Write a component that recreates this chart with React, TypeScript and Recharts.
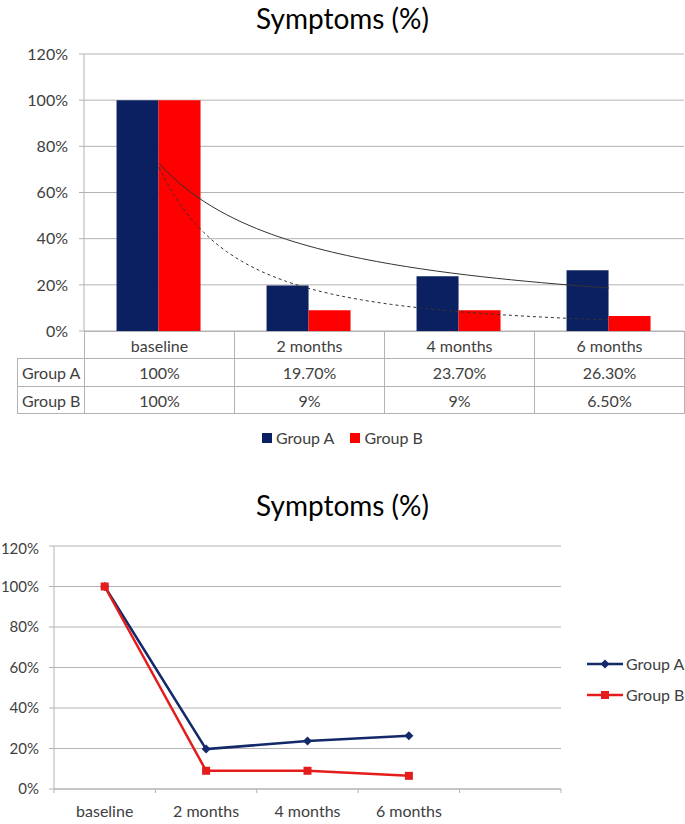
import React from "react";
import {
  ComposedChart,
  LineChart,
  Bar,
  Line,
  XAxis,
  YAxis,
  CartesianGrid,
} from "recharts";

const FONT = "Lato, 'Open Sans', sans-serif";
const TEXT = "#404040";
const GRID = "#b3b3b3";
const NAVY = "#0b2060";
const RED = "#ff0000";
const LINE_NAVY = "#14296a";
const LINE_RED = "#e51c1c";

const categories = ["baseline", "2 months", "4 months", "6 months"];
const groupA = [100, 19.7, 23.7, 26.3];
const groupB = [100, 9, 9, 6.5];
const tableA = ["100%", "19.70%", "23.70%", "26.30%"];
const tableB = ["100%", "9%", "9%", "6.50%"];
const yTicks = [0, 20, 40, 60, 80, 100, 120];
// the line chart has one empty slot at the end
const lineSlots = [...categories, ""];

const barData = categories.map((cat, i) => ({ cat, a: groupA[i], b: groupB[i] }));
const lineData = lineSlots.map((cat, i) => ({
  cat,
  a: i < groupA.length ? groupA[i] : null,
  b: i < groupB.length ? groupB[i] : null,
}));

// power trendline (y = c * x^k), least squares on logs, as the spreadsheet does
function powerFit(ys: number[]) {
  const lx = ys.map((_, i) => Math.log(i + 1));
  const ly = ys.map((y) => Math.log(y));
  const n = ys.length;
  const mx = lx.reduce((s, v) => s + v, 0) / n;
  const my = ly.reduce((s, v) => s + v, 0) / n;
  let sxy = 0;
  let sxx = 0;
  for (let i = 0; i < n; i++) {
    sxy += (lx[i] - mx) * (ly[i] - my);
    sxx += (lx[i] - mx) ** 2;
  }
  const k = sxy / sxx;
  const c = Math.exp(my - k * mx);
  return (x: number) => c * Math.pow(x, k);
}
const fitA = powerFit(groupA);
const fitB = powerFit(groupB);
const trendData: { t: number; ta: number; tb: number }[] = [];
for (let s = 0; s <= 60; s++) {
  const t = 1 + s * 0.05;
  trendData.push({ t, ta: fitA(t), tb: fitB(t) });
}

const pct = (v: number) => `${v}%`;
const tickStyle = { fontSize: 16, fill: TEXT, fontFamily: FONT };

const LINE_LEFT = 54;
const LINE_RIGHT_MARGIN = 124;
const slotWidth = (685 - LINE_LEFT - LINE_RIGHT_MARGIN) / lineSlots.length;

function SlotTick(props: any) {
  const { x, y, payload, index } = props;
  const axisY = y - 14;
  return (
    <g>
      <line x1={x - slotWidth / 2} x2={x - slotWidth / 2} y1={axisY} y2={axisY + 4} stroke={GRID} />
      {index === lineSlots.length - 1 && (
        <line x1={x + slotWidth / 2} x2={x + slotWidth / 2} y1={axisY} y2={axisY + 4} stroke={GRID} />
      )}
      <text x={x} y={axisY + 28} textAnchor="middle" fontSize={16} fill={TEXT} fontFamily={FONT}>
        {payload.value}
      </text>
    </g>
  );
}

function Diamond(props: any) {
  const { cx, cy } = props;
  if (cx == null || cy == null) return null;
  const r = 4.5;
  return (
    <polygon
      points={`${cx},${cy - r} ${cx + r},${cy} ${cx},${cy + r} ${cx - r},${cy}`}
      fill={LINE_NAVY}
    />
  );
}

function Square(props: any) {
  const { cx, cy } = props;
  if (cx == null || cy == null) return null;
  return <rect x={cx - 4} y={cy - 4} width={8} height={8} fill={LINE_RED} />;
}

const cell: React.CSSProperties = {
  border: `1px solid ${GRID}`,
  textAlign: "center",
  padding: 0,
};
const rowHead: React.CSSProperties = { ...cell, textAlign: "left", paddingLeft: 4 };

const titleStyle: React.CSSProperties = {
  position: "absolute",
  left: 0,
  width: 685,
  textAlign: "center",
  fontSize: 28,
  color: "#000",
  fontFamily: FONT,
  lineHeight: "34px",
};

export default function App() {
  return (
    <div
      style={{
        position: "absolute",
        left: 0,
        top: 0,
        width: 685,
        height: 824,
        background: "#fff",
        fontFamily: FONT,
        overflow: "hidden",
      }}
    >
      <div style={{ ...titleStyle, top: 1 }}>Symptoms (%)</div>

      <div style={{ position: "absolute", left: 0, top: 0 }}>
        <ComposedChart
          width={685}
          height={340}
          data={barData}
          margin={{ top: 54, right: 1, left: 0, bottom: 9 }}
          barCategoryGap="21.7%"
          barGap={0}
        >
          <CartesianGrid vertical={false} stroke={GRID} xAxisId="cat" />
          <XAxis dataKey="cat" xAxisId="cat" hide />
          <XAxis
            dataKey="t"
            xAxisId="t"
            type="number"
            domain={[0.5, 4.5]}
            allowDataOverflow
            hide
          />
          <YAxis
            domain={[0, 120]}
            ticks={yTicks}
            width={84}
            tickFormatter={pct}
            tick={tickStyle}
            tickSize={5}
            tickMargin={11}
            tickLine={{ stroke: GRID }}
            axisLine={{ stroke: GRID }}
          />
          <Bar xAxisId="cat" dataKey="a" fill={NAVY} isAnimationActive={false} />
          <Bar xAxisId="cat" dataKey="b" fill={RED} isAnimationActive={false} />
          <Line
            xAxisId="t"
            data={trendData}
            dataKey="ta"
            stroke="#333"
            strokeWidth={1}
            dot={false}
            activeDot={false}
            isAnimationActive={false}
          />
          <Line
            xAxisId="t"
            data={trendData}
            dataKey="tb"
            stroke="#333"
            strokeWidth={1}
            strokeDasharray="3 3"
            dot={false}
            activeDot={false}
            isAnimationActive={false}
          />
        </ComposedChart>
      </div>

      <table
        style={{
          position: "absolute",
          left: 17,
          top: 331,
          borderCollapse: "collapse",
          tableLayout: "fixed",
          width: 668,
          fontFamily: FONT,
          fontSize: 16,
          color: TEXT,
        }}
      >
        <colgroup>
          <col style={{ width: 67 }} />
          {categories.map((c) => (
            <col key={c} style={{ width: 150 }} />
          ))}
        </colgroup>
        <tbody>
          <tr style={{ height: 27 }}>
            <td style={{ padding: 0 }} />
            {categories.map((c) => (
              <td key={c} style={cell}>
                {c}
              </td>
            ))}
          </tr>
          <tr style={{ height: 28 }}>
            <td style={rowHead}>Group A</td>
            {tableA.map((v, i) => (
              <td key={i} style={cell}>
                {v}
              </td>
            ))}
          </tr>
          <tr style={{ height: 27 }}>
            <td style={rowHead}>Group B</td>
            {tableB.map((v, i) => (
              <td key={i} style={cell}>
                {v}
              </td>
            ))}
          </tr>
        </tbody>
      </table>

      <div
        style={{
          position: "absolute",
          left: 0,
          top: 428,
          width: 685,
          display: "flex",
          justifyContent: "center",
          alignItems: "center",
          gap: 16,
          fontSize: 16,
          color: TEXT,
          lineHeight: "20px",
        }}
      >
        <span style={{ display: "flex", alignItems: "center", gap: 4 }}>
          <span style={{ width: 10, height: 10, background: NAVY, display: "inline-block" }} />
          Group A
        </span>
        <span style={{ display: "flex", alignItems: "center", gap: 4 }}>
          <span style={{ width: 10, height: 10, background: RED, display: "inline-block" }} />
          Group B
        </span>
      </div>

      <div style={{ ...titleStyle, top: 488 }}>Symptoms (%)</div>

      <div style={{ position: "absolute", left: 0, top: 540 }}>
        <LineChart
          width={685}
          height={280}
          data={lineData}
          margin={{ top: 6, right: LINE_RIGHT_MARGIN, left: 0, bottom: 0 }}
        >
          <CartesianGrid vertical={false} stroke={GRID} />
          <XAxis
            dataKey="cat"
            scale="band"
            height={31}
            interval={0}
            tickLine={false}
            tickSize={4}
            tickMargin={10}
            axisLine={{ stroke: GRID }}
            tick={<SlotTick />}
          />
          <YAxis
            domain={[0, 120]}
            ticks={yTicks}
            width={LINE_LEFT}
            tickFormatter={pct}
            tick={{ ...tickStyle, fontSize: 15 }}
            tickSize={5}
            tickMargin={10}
            tickLine={{ stroke: GRID }}
            axisLine={{ stroke: GRID }}
          />
          <Line
            dataKey="a"
            stroke={LINE_NAVY}
            strokeWidth={2.5}
            dot={<Diamond />}
            activeDot={false}
            isAnimationActive={false}
          />
          <Line
            dataKey="b"
            stroke={LINE_RED}
            strokeWidth={2.5}
            dot={<Square />}
            activeDot={false}
            isAnimationActive={false}
          />
        </LineChart>
      </div>

      {[
        { name: "Group A", color: LINE_NAVY, marker: "diamond", top: 654 },
        { name: "Group B", color: LINE_RED, marker: "square", top: 685 },
      ].map((item) => (
        <div
          key={item.name}
          style={{
            position: "absolute",
            left: 587,
            top: item.top,
            display: "flex",
            alignItems: "center",
            fontSize: 16,
            color: TEXT,
            lineHeight: "20px",
            whiteSpace: "nowrap",
          }}
        >
          <svg width={37} height={12} style={{ marginRight: 2, flexShrink: 0 }}>
            <line x1={0} x2={36} y1={6} y2={6} stroke={item.color} strokeWidth={2.5} />
            {item.marker === "diamond" ? (
              <polygon points="18,1.5 22.5,6 18,10.5 13.5,6" fill={item.color} />
            ) : (
              <rect x={14} y={2} width={8} height={8} fill={item.color} />
            )}
          </svg>
          {item.name}
        </div>
      ))}
    </div>
  );
}
